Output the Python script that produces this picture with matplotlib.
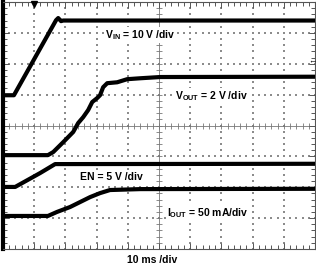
import numpy as np
import matplotlib.pyplot as plt
from matplotlib.ticker import MultipleLocator

plt.rcParams['font.family'] = ['Liberation Sans', 'DejaVu Sans']
plt.rcParams['mathtext.fontset'] = 'custom'
plt.rcParams['mathtext.rm'] = 'Liberation Sans:bold'
plt.rcParams['mathtext.bf'] = 'Liberation Sans:bold'

# scope traces, in screen divisions (10 x 8)
vin_x = [0, 0.35, 1.70, 1.77, 1.86, 1.93, 10]
vin_y = [4.98, 4.98, 7.41, 7.48, 7.38, 7.40, 7.40]

vout_x = [0, 1.44, 1.61, 1.93, 2.25, 2.41, 2.57, 2.73, 2.86, 3.02, 3.11,
          3.21, 3.34, 3.66, 3.98, 4.40, 5.04, 10]
vout_y = [3.04, 3.04, 3.14, 3.46, 3.79, 4.08, 4.27, 4.50, 4.76, 4.89, 4.98,
          5.24, 5.37, 5.40, 5.50, 5.53, 5.57, 5.58]

en_x = [0, 0.39, 1.19, 1.67, 10]
en_y = [2.01, 2.01, 2.46, 2.75, 2.76]

iout_x = [0, 1.44, 1.73, 2.15, 2.47, 2.79, 3.11, 3.43, 4.40, 10]
iout_y = [1.07, 1.07, 1.20, 1.36, 1.52, 1.68, 1.81, 1.91, 1.94, 1.95]

labels = [
    (3.27, 6.93, r"V$_{\mathrm{IN}}$ = 10 V /div"),
    (5.52, 4.95, r"V$_{\mathrm{OUT}}$ = 2 V /div"),
    (2.47, 2.33, "EN = 5 V /div"),
    (5.26, 1.17, r"I$_{\mathrm{OUT}}$ = 50 mA/div"),
]

fig = plt.figure(figsize=(3.16, 2.71), dpi=100)
ax = fig.add_axes([3 / 316, 22 / 271, 312 / 316, 247 / 271])
ax.set_xlim(0, 10)
ax.set_ylim(0, 8)

# dotted graticule
fine_x = np.arange(0, 10.01, 0.2)
fine_y = np.arange(0, 8.01, 0.2)
for k in range(1, 10):
    if k != 5:
        ax.scatter(np.full_like(fine_y, k), fine_y, s=1.0, c='#8c8c8c',
                   marker='s', linewidths=0, zorder=1)
for k in range(1, 8):
    if k != 4:
        ax.scatter(fine_x, np.full_like(fine_x, k), s=1.0, c='#8c8c8c',
                   marker='s', linewidths=0, zorder=1)

# center cross with minor ticks
ax.axvline(5, color='#777777', lw=0.6, zorder=1)
ax.axhline(4, color='#777777', lw=0.6, zorder=1)
ax.plot(fine_x, np.full_like(fine_x, 4), ls='none', marker='|', ms=4,
        mew=0.6, color='#777777', zorder=1)
ax.plot(np.full_like(fine_y, 5), fine_y, ls='none', marker='_', ms=4,
        mew=0.6, color='#777777', zorder=1)

for (x, y, s) in labels:
    ax.text(x, y, s, fontsize=7.5, fontweight='bold', va='center', ha='left',
            zorder=3, bbox=dict(facecolor='white', edgecolor='none', pad=1.0))

lw = 3.0
ax.plot(vin_x, vin_y, color='black', lw=lw, zorder=4, solid_joinstyle='round')
ax.plot(vout_x, vout_y, color='black', lw=lw, zorder=4, solid_joinstyle='round')
ax.plot(en_x, en_y, color='black', lw=lw, zorder=4, solid_joinstyle='round')
ax.plot(iout_x, iout_y, color='black', lw=lw, zorder=4, solid_joinstyle='round')

# trigger markers
ax.plot([1.0], [7.93], marker='v', ms=4.5, color='black', clip_on=False, zorder=5)
ax.text(9.78, 6.08, "\u2190", fontsize=6, va='center', ha='left', zorder=5)

ax.xaxis.set_major_locator(MultipleLocator(1))
ax.xaxis.set_minor_locator(MultipleLocator(0.2))
ax.yaxis.set_major_locator(MultipleLocator(1))
ax.yaxis.set_minor_locator(MultipleLocator(0.2))
ax.tick_params(which='both', direction='in', top=True, right=True,
               labelbottom=False, labelleft=False, color='#555555', width=0.7)
ax.tick_params(which='major', length=4)
ax.tick_params(which='minor', length=3)
for side in ['top', 'bottom', 'right']:
    ax.spines[side].set_color('#555555')
    ax.spines[side].set_linewidth(0.8)
ax.spines['left'].set_color('black')
ax.spines['left'].set_linewidth(3)

fig.text(152 / 316, 1 - 260 / 271, "10 ms /div", fontsize=7.5, fontweight='bold',
         ha='center', va='center')

fig.savefig("out.png", dpi=100)
